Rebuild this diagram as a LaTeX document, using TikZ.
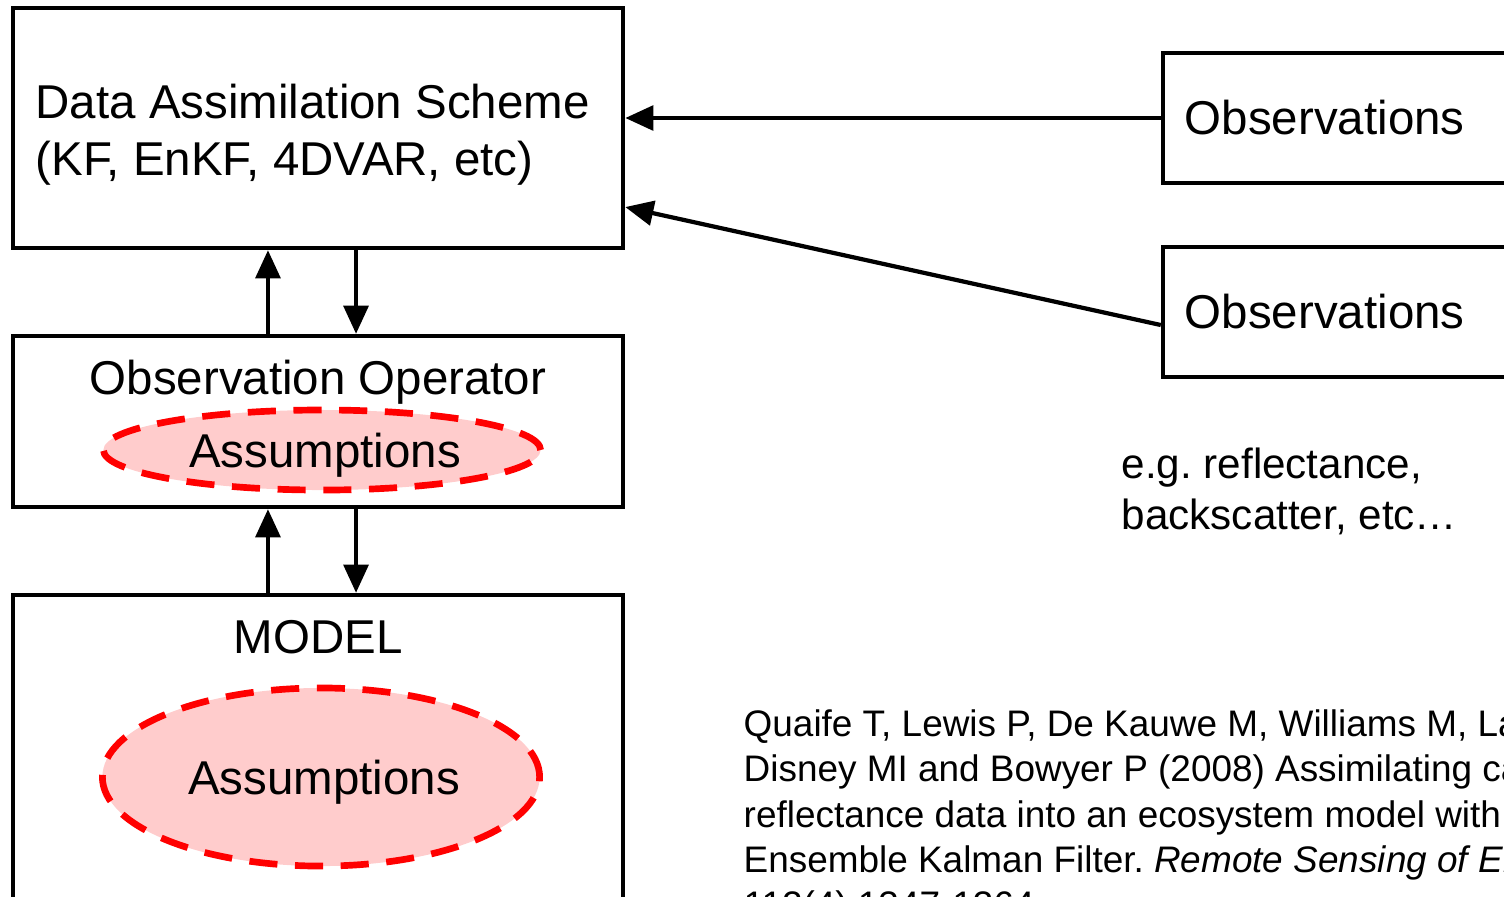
\documentclass[tikz,border=0pt]{standalone}
\usepackage{fontspec}
\setmainfont{Liberation Sans}
\usetikzlibrary{arrows.meta,shapes.geometric}
\definecolor{asmfill}{RGB}{255,204,204}
\frenchspacing
\tikzset{
  box/.style={draw,line width=1.2pt,minimum width=6.1cm,inner sep=0pt},
  obsbox/.style={draw,line width=1.2pt,minimum width=4cm,minimum height=1.3cm,
    text width=3.56cm,inner xsep=0.22cm,align=left,font=\fontsize{13.5}{16}\selectfont},
  asm/.style={ellipse,draw=red,fill=asmfill,line width=1.9pt,
    dash pattern=on 8pt off 5pt,minimum width=4.37cm,inner sep=0pt},
  asmtext/.style={font=\fontsize{13.5}{16}\selectfont,text depth=0pt,inner sep=0pt,xshift=0.03cm},
  big/.style={font=\fontsize{13.5}{16}\selectfont,inner sep=0pt},
  link/.style={->,line width=1.2pt}
}
\begin{document}
\begin{tikzpicture}[x=0.01cm,y=-0.01cm,>={Triangle[length=8pt,width=7pt]}]
\useasboundingbox (0,0) rectangle (1504,896);
\clip (0,0) rectangle (1504,896);
\node[box,minimum height=2.4cm] (da) at (318,128) {};
\node[box,minimum height=1.71cm] (obsop) at (318,421.5) {};
\node[box,minimum height=3.65cm] (model) at (318,777.5) {};
\node[big,anchor=base west,align=left] (datext) at (35,175) {Data Assimilation Scheme\\(KF, EnKF, 4DVAR, etc)};
\node[big,anchor=base] (optext) at (318,394) {Observation Operator};
\node[big,anchor=base] (modeltext) at (318,653) {MODEL};
\node[asm,minimum height=0.8cm,label={[asmtext]center:Assumptions}] (asmA) at (322,450) {};
\node[asm,minimum height=1.78cm,label={[asmtext]center:Assumptions}] (asmB) at (321,777) {};
\node[obsbox] (obsA) at (1363,118) {Observations};
\node[obsbox] (obsB) at (1363,312) {Observations};
\node[anchor=base west,align=left,inner sep=0pt,font=\fontsize{12}{14.5}\selectfont] (note) at (1121,529) {e.g. reflectance,\\backscatter, etc\dots};
\node[anchor=base west,align=left,inner sep=0pt,font=\fontsize{10.5}{12.8}\selectfont] (cite) at (743,917)
  {Quaife T, Lewis P, De Kauwe M, Williams M, Law BE,\\
   Disney MI and Bowyer P (2008) Assimilating canopy\\
   reflectance data into an ecosystem model with an\\
   Ensemble Kalman Filter. \textit{Remote Sensing of Environment}\\
   112(4) 1347-1364};
\draw[link] ([xshift=-0.5cm]obsop.north) -- ([xshift=-0.5cm]da.south);
\draw[link] ([xshift=0.38cm]da.south) -- ([xshift=0.38cm]obsop.north);
\draw[link] ([xshift=-0.5cm]model.north) -- ([xshift=-0.5cm]obsop.south);
\draw[link] ([xshift=0.38cm]obsop.south) -- ([xshift=0.38cm]model.north);
\draw[link] (obsA.west) -- (da.east |- obsA.west);
\draw[link] ([yshift=-0.13cm]obsB.west) -- ([yshift=-0.79cm]da.east);
\end{tikzpicture}
\end{document}
